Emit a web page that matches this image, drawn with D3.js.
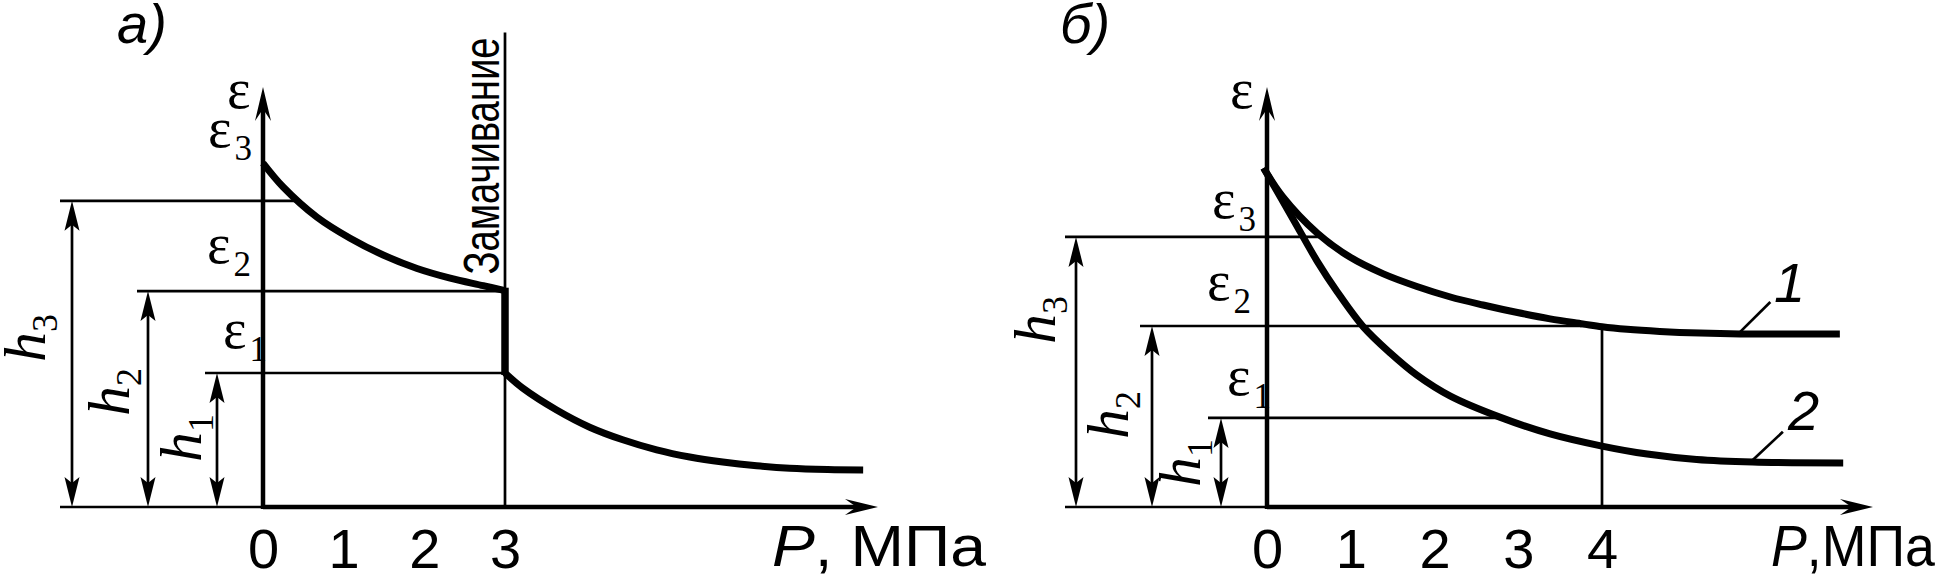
<!DOCTYPE html>
<html><head><meta charset="utf-8">
<script src="https://cdn.jsdelivr.net/npm/d3@7"></script>
<style>
html,body{margin:0;padding:0;background:#fff;}
svg{display:block;}
.sans{font-family:"Liberation Sans",Arial,sans-serif;}
.serif{font-family:"Liberation Serif","Times New Roman",serif;}
</style></head>
<body>
<svg id="c" width="1937" height="578"></svg>
<script>
// ---------- data ----------
const ticksA = [0, 1, 2, 3];
const ticksB = [0, 1, 2, 3, 4];
const soakP = 3;          // замачивание at P = 3 MPa
const markB = 4;          // vertical reference at P = 4 MPa
// panel a: curve before soaking and after soaking (P MPa, ε arbitrary units)
const curveA1 = [[0,8.19],[0.25,7.62],[0.67,6.90],[1.08,6.40],[1.49,6.00],[1.91,5.68],[2.32,5.45],[2.73,5.27],[3.0,5.15]];
const curveA2 = [[3.0,3.19],[3.22,2.83],[3.64,2.31],[4.05,1.90],[4.46,1.60],[4.88,1.36],[5.29,1.19],[5.70,1.07],[6.12,0.98],[6.53,0.92],[7.0,0.89],[7.44,0.88]];
// panel b: curve 1 and curve 2
const curveB1 = [[-0.04,8.07],[0.19,7.38],[0.60,6.52],[0.99,5.95],[1.39,5.55],[1.79,5.25],[2.19,5.00],[2.58,4.81],[2.99,4.63],[3.38,4.48],[3.77,4.36],[4.0,4.29],[4.30,4.23],[4.69,4.18],[5.17,4.14],[5.65,4.12],[6.84,4.12]];
const curveB2 = [[-0.04,8.07],[0.31,6.86],[0.60,5.85],[0.84,5.12],[1.15,4.29],[1.47,3.67],[1.79,3.14],[2.19,2.64],[2.78,2.14],[3.38,1.74],[4.0,1.45],[4.54,1.26],[5.13,1.13],[5.80,1.07],[6.88,1.05]];
// levels ε1, ε2, ε3
const epsA = [3.19, 5.14, 7.29];
const epsB = [2.12, 4.31, 6.43];
const epsNames = ["1", "2", "3"];
const hNames = ["1", "2", "3"];
const curveNamesB = ["1", "2"];

// ---------- scales ----------
const yTop = 10;
const xA = d3.scaleLinear().domain([0, 3]).range([263, 505]);
const yA = d3.scaleLinear().domain([0, yTop]).range([507, 87]);
const xB = d3.scaleLinear().domain([0, 4]).range([1267, 1602]);
const yB = yA.copy();

const svg = d3.select("#c");
const TH = 2.7, AX = 4.5, CW = 7;

function arrowHead(g, x1, y1, x2, y2, len, hw, notch) {
  const a = Math.atan2(y2 - y1, x2 - x1);
  const c = Math.cos(a), s = Math.sin(a);
  const P = (u, v) => [x2 + u * c - v * s, y2 + u * s + v * c];
  const pts = [P(0, 0), P(-len, hw), P(-len * notch, 0), P(-len, -hw)];
  g.append("path").attr("d", "M" + pts.map(p => p.join(",")).join("L") + "Z").attr("fill", "#000");
}
function seg(g, x1, y1, x2, y2, w) {
  g.append("line").attr("x1", x1).attr("y1", y1).attr("x2", x2).attr("y2", y2)
    .attr("stroke", "#000").attr("stroke-width", w);
}
function dimArrow(g, x, yb, yt) {
  seg(g, x, yb - 20, x, yt + 20, TH);
  arrowHead(g, x, yb - 40, x, yb, 30, 7.5, 0.8);
  arrowHead(g, x, yt + 40, x, yt, 30, 7.5, 0.8);
}
function epsLabel(g, x, y, sub) {
  const t = g.append("text").attr("class", "serif").attr("x", x).attr("y", y).attr("font-size", 56).text("ε");
  if (sub) t.append("tspan").attr("font-size", 35).attr("dx", 3).attr("dy", 13).text(sub);
}
function hLabel(g, bx, cy, sub) {
  const t = g.append("text").attr("class", "serif").attr("text-anchor", "middle")
    .attr("transform", `translate(${bx},${cy}) rotate(-90)`);
  t.append("tspan").attr("font-size", 60).attr("font-style", "italic").text("h");
  t.append("tspan").attr("font-size", 36).attr("dy", 12).text(sub);
}
const line = (x, y) => d3.line().x(d => x(d[0])).y(d => y(d[1])).curve(d3.curveCatmullRom.alpha(0.5));

function panel(opts) {
  const { x, y, ticks, tipX, eps, epsPos, dimX, dimLeft, hPos, lab, labX, pLabel } = opts;
  const g = svg.append("g");
  g.append("text").attr("class", "sans").attr("font-style", "italic").attr("font-size", 56)
    .attr("x", labX).attr("y", 43).text(lab);
  eps.forEach((e, i) => seg(g, x(dimLeft[i]), y(e), x(opts.levelEnd[i]), y(e), TH));
  seg(g, x(dimLeft[2]), y(0), x(0), y(0), TH);
  eps.forEach((e, i) => dimArrow(g, x(dimX[i]), y(0), y(e)));
  hPos.forEach((p, i) => hLabel(g, p[0], p[1], hNames[i]));
  seg(g, x(0), y(0), x(tipX) - 20, y(0), AX);
  arrowHead(g, x(0), y(0), x(tipX), y(0), 33, 8, 0.65);
  seg(g, x(0), y(0) + 2, x(0), y(yTop) + 20, AX);
  arrowHead(g, x(0), y(0), x(0), y(yTop), 34, 8, 0.65);
  epsLabel(g, epsPos[0][0], epsPos[0][1], null);
  eps.forEach((e, i) => epsLabel(g, epsPos[i + 1][0], epsPos[i + 1][1], epsNames[i]));
  const ax = g.append("g").attr("transform", `translate(0,${y(0)})`)
    .call(d3.axisBottom(x).tickValues(ticks).tickSize(0).tickFormat(d3.format("d")));
  ax.select(".domain").remove();
  ax.selectAll("text").attr("class", "sans").attr("font-size", 56).attr("fill", "#000")
    .attr("y", 61).attr("dy", 0);
  const pt = g.append("text").attr("class", "sans").attr("font-size", 58)
    .attr("x", pLabel.x).attr("y", 566);
  pt.append("tspan").attr("font-style", "italic").text("P");
  pt.append("tspan").text(pLabel.rest);
  if (pLabel.len) pt.attr("textLength", pLabel.len).attr("lengthAdjust", "spacingAndGlyphs");
  return g;
}

// ---------- panel a ----------
const gA = panel({
  x: xA, y: yA, ticks: ticksA, tipX: xA.invert(878),
  eps: epsA,
  levelEnd: [soakP, soakP, xA.invert(301)],
  dimLeft: [xA.invert(205), xA.invert(137), xA.invert(60)],
  dimX: [xA.invert(217), xA.invert(148), xA.invert(72)],
  epsPos: [[227,108],[223,348],[207,263],[208,147]],
  hPos: [[201,438],[129,392],[45,338]],
  lab: "а)", labX: 117,
  pLabel: { x: 772, rest: ", МПа", len: 214 }
});
seg(gA, xA(soakP), yA(0), xA(soakP), yA(11.3), TH);
gA.append("text").attr("class", "sans").attr("font-size", 50).attr("text-anchor", "middle")
  .attr("transform", `translate(${xA(soakP) - 6},${156}) rotate(-90)`)
  .attr("textLength", 237).attr("lengthAdjust", "spacingAndGlyphs").text("Замачивание");
gA.append("path").datum(curveA1).attr("d", line(xA, yA)).attr("fill", "none").attr("stroke", "#000").attr("stroke-width", CW);
gA.append("path").datum(curveA2).attr("d", line(xA, yA)).attr("fill", "none").attr("stroke", "#000").attr("stroke-width", CW);
seg(gA, xA(soakP), yA(curveA1[curveA1.length - 1][1]) - 3, xA(soakP), yA(curveA2[0][1]) + 2, 7.5);

// ---------- panel b ----------
const gB = panel({
  x: xB, y: yB, ticks: ticksB, tipX: xB.invert(1873),
  eps: epsB,
  levelEnd: [xB.invert(1500), markB, xB.invert(1320)],
  dimLeft: [xB.invert(1208), xB.invert(1140), xB.invert(1065)],
  dimX: [xB.invert(1221), xB.invert(1152), xB.invert(1076)],
  epsPos: [[1230,108],[1227,395],[1207,300],[1212,218]],
  hPos: [[1200,463],[1128,415],[1055,320]],
  lab: "б)", labX: 1060,
  pLabel: { x: 1771, rest: ",МПа", len: 164 }
});
seg(gB, xB(markB), yB(0), xB(markB), yB(4.29), TH);
[curveB1, curveB2].forEach(c => gB.append("path").datum(c).attr("d", line(xB, yB))
  .attr("fill", "none").attr("stroke", "#000").attr("stroke-width", CW));
const leaders = [[[5.65, 4.17], [6.01, 4.88]], [[5.80, 1.12], [6.16, 1.79]]];
leaders.forEach(l => seg(gB, xB(l[0][0]), yB(l[0][1]), xB(l[1][0]), yB(l[1][1]), TH));
const numPos = [[1774, 302], [1788, 430]];
curveNamesB.forEach((n, i) => gB.append("text").attr("class", "sans").attr("font-style", "italic")
  .attr("font-size", 56).attr("x", numPos[i][0]).attr("y", numPos[i][1]).text(n));
</script>
</body></html>
